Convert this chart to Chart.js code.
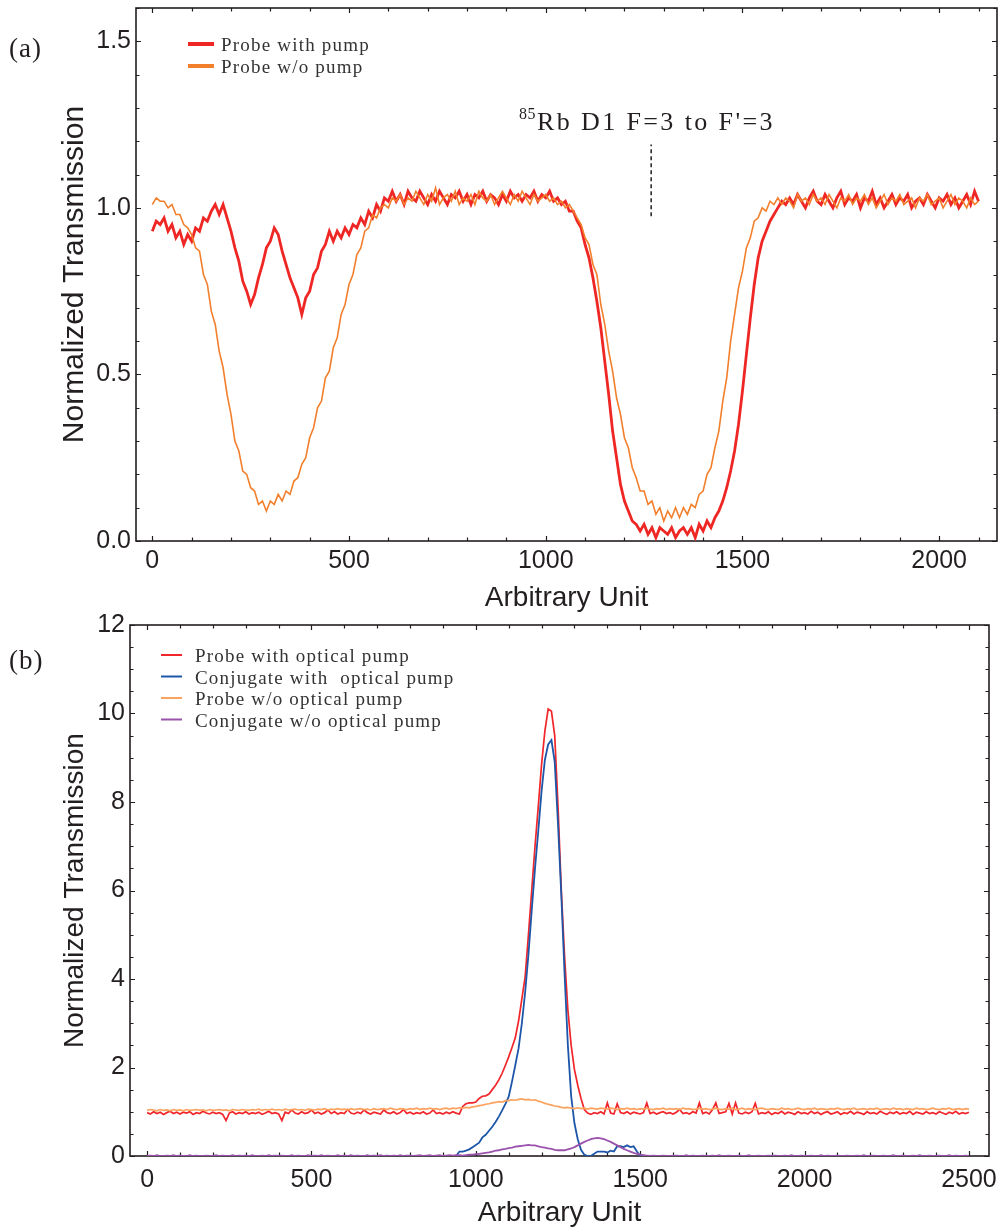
<!DOCTYPE html>
<html>
<head>
<meta charset="utf-8">
<script src="https://cdn.jsdelivr.net/npm/chart.js@4.4.0/dist/chart.umd.min.js"></script>
<style>
  body { margin: 0; background: #fff; }
  #wrap { position: relative; width: 1003px; height: 1230px; }
  .panel { position: absolute; left: 0; width: 1003px; }
</style>
</head>
<body>
<div id="wrap">
  <div class="panel" style="top:0;height:620px"><canvas id="chartA" width="1003" height="620"></canvas></div>
  <div class="panel" style="top:595px;height:635px"><canvas id="chartB" width="1003" height="635"></canvas></div>
</div>
<script>
// ---- panel (a): transmission scans, sampled every 10 units from 0 to 2100
const stepA = 10;
const probePumpA = [
  0.93,0.96,0.95,0.97,0.93,0.95,0.91,0.93,0.89,0.92,
  0.90,0.94,0.93,0.97,0.96,0.99,1.01,0.98,1.01,0.97,
  0.93,0.88,0.84,0.78,0.75,0.71,0.74,0.79,0.83,0.88,
  0.90,0.94,0.92,0.87,0.83,0.79,0.76,0.73,0.68,0.73,
  0.75,0.80,0.82,0.87,0.89,0.93,0.90,0.93,0.91,0.94,
  0.92,0.95,0.94,0.97,0.95,0.99,0.97,1.01,0.99,1.03,
  1.02,1.05,1.02,1.04,1.01,1.05,1.03,1.02,1.05,1.03,
  1.01,1.04,1.02,1.05,1.03,1.01,1.04,1.03,1.05,1.02,
  1.04,1.01,1.04,1.03,1.05,1.02,1.04,1.03,1.01,1.04,
  1.02,1.05,1.03,1.04,1.02,1.04,1.03,1.05,1.02,1.04,
  1.03,1.05,1.02,1.03,1.01,1.02,0.99,0.99,0.96,0.94,
  0.89,0.85,0.79,0.72,0.64,0.54,0.44,0.33,0.25,0.17,
  0.12,0.09,0.06,0.05,0.03,0.05,0.02,0.04,0.01,0.04,
  0.03,0.02,0.04,0.01,0.03,0.04,0.02,0.04,0.01,0.05,
  0.03,0.06,0.04,0.07,0.09,0.12,0.16,0.21,0.27,0.35,
  0.45,0.56,0.67,0.77,0.85,0.90,0.93,0.96,0.98,1.00,
  1.02,1.01,1.03,1.01,1.04,1.02,1.00,1.03,1.05,1.02,
  1.01,1.04,1.02,1.00,1.03,1.05,1.01,1.03,1.02,1.04,
  1.00,1.03,1.02,1.05,1.01,1.03,1.00,1.02,1.04,1.01,
  1.03,1.02,1.04,1.00,1.02,1.03,1.01,1.04,1.02,1.00,
  1.03,1.02,1.04,1.01,1.03,1.00,1.02,1.04,1.01,1.05,
  1.02
];
const probeNoPumpA = [
  1.01,1.03,1.02,1.02,1.00,1.01,0.98,0.98,0.95,0.94,
  0.92,0.88,0.87,0.80,0.77,0.69,0.65,0.57,0.52,0.44,
  0.38,0.30,0.27,0.21,0.20,0.16,0.15,0.11,0.12,0.09,
  0.12,0.11,0.14,0.12,0.15,0.14,0.18,0.19,0.23,0.25,
  0.31,0.34,0.40,0.42,0.49,0.51,0.58,0.61,0.68,0.71,
  0.77,0.80,0.86,0.88,0.93,0.94,0.98,0.97,1.00,1.01,
  1.00,1.03,1.02,1.04,1.01,1.03,1.02,1.05,1.03,1.01,
  1.04,1.02,1.06,1.01,1.03,1.04,1.02,1.05,1.01,1.03,
  1.02,1.04,1.01,1.05,1.03,1.02,1.04,1.01,1.03,1.05,
  1.03,1.01,1.04,1.02,1.05,1.03,1.01,1.04,1.02,1.03,
  1.04,1.02,1.03,1.01,1.02,1.00,1.01,0.99,0.97,0.95,
  0.91,0.89,0.83,0.80,0.71,0.65,0.57,0.51,0.43,0.38,
  0.31,0.28,0.22,0.19,0.15,0.15,0.11,0.12,0.08,0.10,
  0.06,0.09,0.07,0.10,0.07,0.10,0.08,0.11,0.10,0.14,
  0.15,0.20,0.22,0.28,0.33,0.42,0.49,0.60,0.68,0.76,
  0.81,0.88,0.91,0.96,0.97,1.00,0.99,1.02,1.01,1.03,
  1.01,1.03,1.02,1.00,1.04,1.02,1.03,1.01,1.04,1.02,
  1.03,1.01,1.04,1.02,1.00,1.03,1.02,1.04,1.01,1.03,
  1.02,1.04,1.01,1.03,1.00,1.02,1.04,1.01,1.03,1.02,
  1.04,1.01,1.02,1.03,1.00,1.03,1.02,1.04,1.01,1.02,
  1.03,1.00,1.02,1.04,1.01,1.03,1.02,1.00,1.03,1.01,
  1.02
];
const legendA = ['Probe with pump', 'Probe w/o pump'];
const xTicksA = [0, 500, 1000, 1500, 2000];
const yTicksA = [0, 0.5, 1.0, 1.5];
// transition marker
const markerX = [1268, 1268];
const markerY = [0.975, 1.19];
const markerIsotope = '85';
const markerText = "Rb D1 F=3 to F'=3";

// ---- panel (b): gain spectra, sampled every 10 units from 0 to 2500
const stepB = 10;
const probePumpB = [
  0.98,0.95,1.00,0.96,0.99,0.94,0.98,1.01,0.96,0.99,
  0.95,0.99,0.97,1.00,0.94,0.98,0.96,1.01,0.97,0.95,
  0.99,0.96,0.98,0.94,0.80,0.97,1.00,0.95,0.98,0.96,
  1.00,0.95,0.98,0.96,0.99,0.94,0.97,1.01,0.96,0.98,
  0.95,0.80,0.99,0.96,1.04,0.97,0.95,1.00,0.96,0.98,
  1.04,0.96,0.99,0.95,0.98,1.04,0.96,1.00,0.95,0.98,
  0.96,1.05,0.97,0.95,0.99,0.96,1.04,0.98,0.95,0.99,
  0.97,0.95,1.04,0.98,0.96,1.00,0.95,0.98,1.05,0.96,
  0.99,0.95,0.98,0.96,1.00,0.95,0.97,1.04,0.96,0.98,
  0.95,0.99,0.96,1.00,0.97,0.95,1.12,1.18,1.20,1.20,
  1.22,1.30,1.35,1.36,1.40,1.50,1.60,1.72,1.87,2.05,
  2.24,2.45,2.67,3.05,3.55,4.05,5.00,6.00,7.00,7.90,
  8.85,9.60,10.10,10.05,9.50,7.90,6.00,4.50,3.30,2.50,
  1.95,1.60,1.30,1.05,0.97,0.94,0.98,0.96,1.00,0.95,
  1.20,0.97,0.95,1.18,0.98,0.96,1.00,0.95,0.99,0.97,
  0.95,0.98,1.20,0.96,0.99,0.95,0.98,1.00,0.96,0.98,
  0.95,0.99,1.05,0.96,0.98,0.95,1.00,0.97,1.20,0.96,
  0.99,0.95,1.05,1.20,0.96,0.98,1.00,1.19,0.95,1.20,
  0.97,0.95,0.99,0.96,1.00,1.19,0.95,0.98,0.96,1.00,
  0.94,0.98,0.96,1.01,0.95,0.99,0.97,0.94,1.00,0.96,
  0.98,0.95,1.01,0.96,0.99,0.94,0.98,1.00,0.95,0.97,
  1.00,0.94,0.98,0.96,1.01,0.95,0.99,0.97,0.94,1.00,
  0.96,0.98,0.95,1.01,0.97,0.94,0.99,0.96,1.00,0.95,
  0.98,0.96,1.01,0.94,0.99,0.97,0.95,1.00,0.96,0.98,
  0.95,1.00,0.97,0.94,0.99,0.96,1.01,0.95,0.98,0.96,
  0.99
];
const conjPumpB = [
  0,0,0,0,0,0,0,0,0,0,
  0,0,0,0,0,0,0,0,0,0,
  0,0,0,0,0,0,0,0,0,0,
  0,0,0,0,0,0,0,0,0,0,
  0,0,0,0,0,0,0,0,0,0,
  0,0,0,0,0,0,0,0,0,0,
  0,0,0,0,0,0,0,0,0,0,
  0,0,0,0,0,0,0,0,0,0,
  0,0,0,0,0,0,0,0,0,0,
  0,0,0,0,0,0.10,0.10,0.12,0.15,0.20,
  0.25,0.30,0.42,0.48,0.57,0.66,0.77,0.89,1.03,1.18,
  1.34,1.68,2.05,2.43,3.00,3.70,4.55,5.55,6.50,7.35,
  8.25,8.95,9.30,9.40,8.90,7.50,5.90,4.10,2.50,1.35,
  0.74,0.38,0.14,0.03,0,0,0.05,0.10,0.10,0.10,
  0.08,0.12,0.10,0.22,0.22,0.20,0.24,0.20,0.22,0.10,
  0,0,0,0,0,0,0,0,0,0,
  0,0,0,0,0,0,0,0,0,0,
  0,0,0,0,0,0,0,0,0,0,
  0,0,0,0,0,0,0,0,0,0,
  0,0,0,0,0,0,0,0,0,0,
  0,0,0,0,0,0,0,0,0,0,
  0,0,0,0,0,0,0,0,0,0,
  0,0,0,0,0,0,0,0,0,0,
  0,0,0,0,0,0,0,0,0,0,
  0,0,0,0,0,0,0,0,0,0,
  0
];
const probeNoPumpB = [
  1.03,1.05,1.04,1.02,1.05,1.03,1.04,1.02,1.05,1.03,
  1.04,1.02,1.05,1.03,1.04,1.05,1.03,1.04,1.02,1.05,
  1.03,1.04,1.05,1.03,1.04,1.02,1.05,1.04,1.03,1.05,
  1.04,1.03,1.05,1.04,1.06,1.03,1.05,1.04,1.06,1.04,
  1.05,1.03,1.06,1.04,1.05,1.06,1.04,1.05,1.03,1.06,
  1.05,1.04,1.06,1.05,1.07,1.04,1.06,1.05,1.07,1.05,
  1.06,1.04,1.07,1.05,1.06,1.07,1.05,1.06,1.04,1.07,
  1.05,1.06,1.07,1.05,1.08,1.06,1.05,1.07,1.06,1.05,
  1.07,1.06,1.08,1.05,1.07,1.06,1.08,1.06,1.07,1.05,
  1.07,1.08,1.06,1.08,1.07,1.09,1.08,1.10,1.09,1.11,
  1.12,1.14,1.15,1.17,1.18,1.20,1.21,1.23,1.22,1.25,
  1.25,1.27,1.26,1.28,1.29,1.27,1.28,1.26,1.27,1.24,
  1.22,1.19,1.17,1.15,1.13,1.12,1.10,1.09,1.10,1.08,
  1.07,1.09,1.07,1.08,1.06,1.08,1.07,1.06,1.08,1.07,
  1.06,1.08,1.07,1.05,1.07,1.06,1.08,1.06,1.07,1.05,
  1.07,1.06,1.08,1.06,1.05,1.07,1.06,1.08,1.05,1.07,
  1.06,1.07,1.05,1.08,1.06,1.07,1.05,1.06,1.08,1.06,
  1.07,1.05,1.06,1.08,1.06,1.05,1.07,1.06,1.08,1.05,
  1.06,1.08,1.05,1.07,1.06,1.05,1.07,1.08,1.06,1.05,
  1.07,1.06,1.05,1.08,1.06,1.07,1.05,1.06,1.08,1.06,
  1.05,1.07,1.06,1.08,1.05,1.07,1.06,1.05,1.07,1.06,
  1.08,1.06,1.05,1.07,1.06,1.08,1.05,1.06,1.07,1.05,
  1.07,1.06,1.08,1.05,1.06,1.07,1.05,1.08,1.06,1.07,
  1.05,1.07,1.06,1.05,1.08,1.06,1.07,1.05,1.06,1.08,
  1.06,1.05,1.07,1.06,1.08,1.05,1.06,1.07,1.05,1.07,
  1.06
];
const conjNoPumpB = [
  0,0.01,0,0.02,0,0,0.01,0,0.02,0,
  0.01,0,0,0.02,0,0.01,0,0,0.01,0,
  0,0.02,0,0.01,0,0,0.02,0,0.01,0,
  0.01,0,0.02,0,0,0.01,0,0.02,0,0.01,
  0,0.01,0,0,0.02,0,0.01,0,0,0.02,
  0,0.01,0,0.02,0,0.01,0,0,0.02,0,
  0.01,0,0.02,0,0.01,0,0,0.02,0,0.01,
  0,0.02,0,0.01,0,0.01,0,0.02,0,0.01,
  0.01,0,0.01,0.02,0,0.01,0.02,0,0.01,0.02,
  0,0.01,0.02,0.01,0.02,0.02,0.01,0.02,0.03,0.03,
  0.04,0.05,0.06,0.07,0.08,0.10,0.12,0.13,0.15,0.16,
  0.18,0.19,0.21,0.22,0.23,0.24,0.25,0.24,0.24,0.22,
  0.20,0.19,0.17,0.16,0.14,0.13,0.13,0.13,0.15,0.17,
  0.20,0.24,0.28,0.32,0.35,0.38,0.40,0.41,0.40,0.38,
  0.35,0.32,0.28,0.24,0.20,0.16,0.13,0.10,0.07,0.05,
  0.03,0.02,0.01,0,0.01,0,0,0.01,0,0,
  0,0.01,0,0,0.02,0,0.01,0,0,0.01,
  0,0,0.01,0,0.02,0,0,0.01,0,0,
  0.01,0,0,0.02,0,0,0.01,0,0,0.01,
  0,0.01,0,0,0.01,0,0.02,0,0,0.01,
  0,0,0.01,0,0,0.02,0,0.01,0,0,
  0.01,0,0,0.01,0,0,0.01,0,0.02,0,
  0,0.01,0,0,0.01,0,0,0.02,0,0,
  0.01,0,0,0.01,0,0.02,0,0,0.01,0,
  0,0.01,0,0,0.02,0,0.01,0,0,0.01,
  0
];
const legendB = ['Probe with optical pump', 'Conjugate with  optical pump', 'Probe w/o optical pump', 'Conjugate w/o optical pump'];
const xTicksB = [0, 500, 1000, 1500, 2000, 2500];
const yTicksB = [0, 2, 4, 6, 8, 10, 12];

const INK = '#231f20';
const SANS = '"Liberation Sans", Arial, sans-serif';
const SERIF = '"Liberation Serif", "Times New Roman", serif';

const scan = (vals, step) => vals.map((v, i) => ({ x: i * step, y: v }));

// inward ticks on all four sides plus the box
const frameTicks = {
  id: 'frameTicks',
  beforeDatasetsDraw(chart, args, opts) {
    const { ctx, chartArea: a, scales: { x, y } } = chart;
    ctx.save();
    ctx.strokeStyle = INK;
    ctx.lineWidth = 1.2;
    const isMajor = (v, m) => Math.abs(v / m - Math.round(v / m)) < 1e-6;
    for (let k = Math.ceil(x.min / opts.xMinor); k * opts.xMinor <= x.max; k++) {
      const v = k * opts.xMinor;
      const px = Math.round(x.getPixelForValue(v)) + 0.5;
      const len = isMajor(v, opts.xMajor) ? 5 : 3.5;
      ctx.beginPath();
      ctx.moveTo(px, a.bottom); ctx.lineTo(px, a.bottom - len);
      ctx.moveTo(px, a.top); ctx.lineTo(px, a.top + len);
      ctx.stroke();
    }
    for (let k = Math.ceil(y.min / opts.yMinor - 1e-6); k * opts.yMinor <= y.max + 1e-6; k++) {
      const v = k * opts.yMinor;
      const py = Math.round(y.getPixelForValue(v)) + 0.5;
      const len = isMajor(v, opts.yMajor) ? 5 : 3.5;
      ctx.beginPath();
      ctx.moveTo(a.left, py); ctx.lineTo(a.left + len, py);
      ctx.moveTo(a.right, py); ctx.lineTo(a.right - len, py);
      ctx.stroke();
    }
    ctx.lineWidth = 1.6;
    ctx.strokeRect(a.left, a.top, a.right - a.left, a.bottom - a.top);
    ctx.restore();
  }
};

// hand placed legend, panel tag and annotation
const overlay = {
  id: 'overlay',
  afterDraw(chart, args, opts) {
    const { ctx } = chart;
    ctx.save();
    ctx.fillStyle = INK;
    ctx.textBaseline = 'alphabetic';
    ctx.font = '27px ' + SERIF;
    ctx.letterSpacing = '1px';
    ctx.fillText(opts.tag, 9, opts.tagY);

    ctx.font = '19px ' + SERIF;
    ctx.letterSpacing = '1.2px';
    opts.legend.forEach((item, i) => {
      const yy = opts.legY + i * opts.legDy;
      ctx.strokeStyle = item.color;
      ctx.lineWidth = item.width;
      ctx.beginPath();
      ctx.moveTo(opts.legX0, yy); ctx.lineTo(opts.legX1, yy);
      ctx.stroke();
      ctx.fillStyle = '#333';
      ctx.fillText(item.text, opts.legTextX, yy + 7);
    });

    if (opts.note) {
      const { x, y } = chart.scales;
      const cx = x.getPixelForValue(opts.note.x);
      const by = y.getPixelForValue(opts.note.y);
      ctx.fillStyle = INK;
      ctx.font = '16px ' + SERIF;
      ctx.letterSpacing = '0.5px';
      const w1 = ctx.measureText(opts.note.sup).width;
      ctx.font = '26px ' + SERIF;
      ctx.letterSpacing = '2.4px';
      const w2 = ctx.measureText(opts.note.text).width;
      const x0 = cx - (w1 + w2) / 2;
      ctx.fillText(opts.note.text, x0 + w1 + 1, by);
      ctx.font = '16px ' + SERIF;
      ctx.letterSpacing = '0.5px';
      ctx.fillText(opts.note.sup, x0, by - 11);
    }
    ctx.restore();
  }
};

function scales(o) {
  return {
    x: {
      type: 'linear', min: o.xMin, max: o.xMax,
      afterBuildTicks: (s) => { s.ticks = o.xTicks.map((v) => ({ value: v })); },
      afterFit: (s) => { s.height = o.xHeight; s.paddingLeft = 0; s.paddingRight = 0; },
      grid: { display: false, drawTicks: false },
      border: { display: false },
      ticks: { color: INK, font: { family: SANS, size: 25 }, padding: o.xTickPad, maxRotation: 0, callback: (v) => String(v) },
      title: { display: true, text: 'Arbitrary Unit', color: INK, font: { family: SANS, size: 28 }, padding: { top: 0, bottom: o.xTitlePad } }
    },
    y: {
      type: 'linear', min: o.yMin, max: o.yMax,
      afterBuildTicks: (s) => { s.ticks = o.yTicks.map((v) => ({ value: v })); },
      afterFit: (s) => { s.width = o.yWidth; s.paddingTop = 0; s.paddingBottom = 0; },
      grid: { display: false, drawTicks: false },
      border: { display: false },
      ticks: { color: INK, font: { family: SANS, size: 25 }, padding: 5, callback: o.yFmt },
      title: { display: true, text: 'Normalized Transmission', color: INK, font: { family: SANS, size: o.yTitleSize }, padding: { top: o.yTitlePad, bottom: 0 } }
    }
  };
}

const line = (data, color, width, order) => ({
  data, borderColor: color, borderWidth: width, pointRadius: 0, tension: 0,
  fill: false, order, borderJoinStyle: 'miter'
});

const redA = '#ee2624', orangeA = '#f27f2c';
new Chart(document.getElementById('chartA'), {
  type: 'line',
  data: {
    datasets: [
      line(scan(probePumpA, stepA), redA, 2.8, 3),
      line(scan(probeNoPumpA, stepA), orangeA, 1.6, 2),
      Object.assign(line(markerX.map((v, i) => ({ x: v, y: markerY[i] })), INK, 1.5, 1), { borderDash: [4, 3] })
    ]
  },
  options: {
    responsive: false, animation: false, events: [],
    layout: { padding: { top: 8, right: 6, left: 0, bottom: 0 } },
    scales: scales({
      xMin: -41.4, xMax: 2147, xTicks: xTicksA, xHeight: 79, xTickPad: 5, xTitlePad: 5,
      yMin: 0, yMax: 1.6, yTicks: yTicksA, yWidth: 136, yTitlePad: 57, yTitleSize: 30,
      yFmt: (v) => v.toFixed(1)
    }),
    plugins: {
      legend: { display: false }, tooltip: { enabled: false },
      frameTicks: { xMinor: 100, xMajor: 500, yMinor: 0.1, yMajor: 0.5 },
      overlay: {
        tag: '(a)', tagY: 57,
        legend: [
          { text: legendA[0], color: redA, width: 4 },
          { text: legendA[1], color: orangeA, width: 4 }
        ],
        legX0: 188, legX1: 214, legTextX: 221, legY: 44, legDy: 22,
        note: { x: 1256, y: 1.235, sup: markerIsotope, text: markerText }
      }
    }
  },
  plugins: [frameTicks, overlay]
});

const redB = '#f0262a', blueB = '#1d56a8', orangeB = '#fba25f', purpleB = '#9b52ad';
new Chart(document.getElementById('chartB'), {
  type: 'line',
  data: {
    datasets: [
      line(scan(probePumpB, stepB), redB, 1.7, 4),
      line(scan(conjPumpB, stepB), blueB, 1.8, 3),
      line(scan(probeNoPumpB, stepB), orangeB, 1.7, 2),
      line(scan(conjNoPumpB, stepB), purpleB, 1.8, 1)
    ]
  },
  options: {
    responsive: false, animation: false, events: [],
    layout: { padding: { top: 30, right: 14, left: 0, bottom: 0 } },
    scales: scales({
      xMin: -52, xMax: 2561, xTicks: xTicksB, xHeight: 74, xTickPad: 9, xTitlePad: 0,
      yMin: 0, yMax: 12, yTicks: yTicksB, yWidth: 130, yTitlePad: 58, yTitleSize: 28,
      yFmt: (v) => String(v)
    }),
    plugins: {
      legend: { display: false }, tooltip: { enabled: false },
      frameTicks: { xMinor: 100, xMajor: 500, yMinor: 0.5, yMajor: 2 },
      overlay: {
        tag: '(b)', tagY: 74,
        legend: [
          { text: legendB[0], color: redB, width: 2 },
          { text: legendB[1], color: blueB, width: 2 },
          { text: legendB[2], color: orangeB, width: 2 },
          { text: legendB[3], color: purpleB, width: 2 }
        ],
        legX0: 161, legX1: 182, legTextX: 195, legY: 60, legDy: 21.5
      }
    }
  },
  plugins: [frameTicks, overlay]
});
</script>
</body>
</html>
